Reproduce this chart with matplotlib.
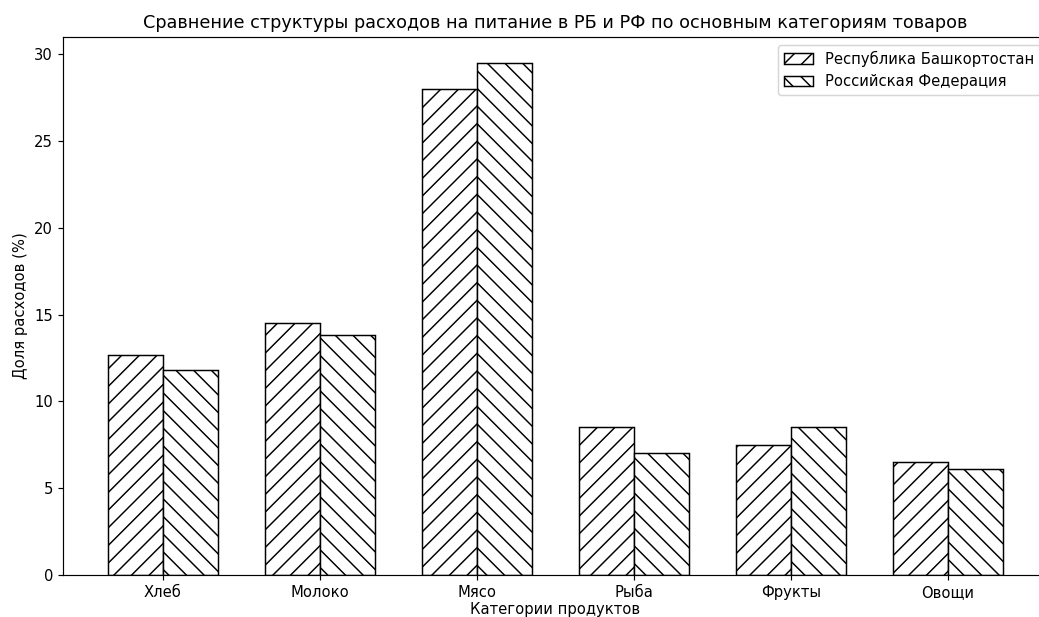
import matplotlib
matplotlib.use("Agg")
import matplotlib.pyplot as plt
import numpy as np

categories = ["Хлеб", "Молоко", "Мясо", "Рыба", "Фрукты", "Овощи"]
rb_values = [12.7, 14.5, 28.0, 8.5, 7.5, 6.5]
rf_values = [11.8, 13.8, 29.5, 7.0, 8.5, 6.1]
series_names = ["Республика Башкортостан", "Российская Федерация"]

DPI = 106
fig = plt.figure(figsize=(1039 / DPI, 617 / DPI), dpi=DPI)
ax = fig.add_axes([0.0609, 0.0681, 0.9475, 0.8715])

x = np.arange(len(categories))
w = 0.35
ax.bar(x - w / 2, rb_values, w, color="white", edgecolor="black", hatch="//", label=series_names[0])
ax.bar(x + w / 2, rf_values, w, color="white", edgecolor="black", hatch="\\\\", label=series_names[1])

ax.set_xticks(x)
ax.set_xticklabels(categories)
ax.set_xlabel("Категории продуктов", labelpad=1)
ax.set_ylabel("Доля расходов (%)")
ax.set_title("Сравнение структуры расходов на питание в РБ и РФ по основным категориям товаров")
ax.legend(loc="upper right")

fig.savefig("out.png", dpi=DPI)
